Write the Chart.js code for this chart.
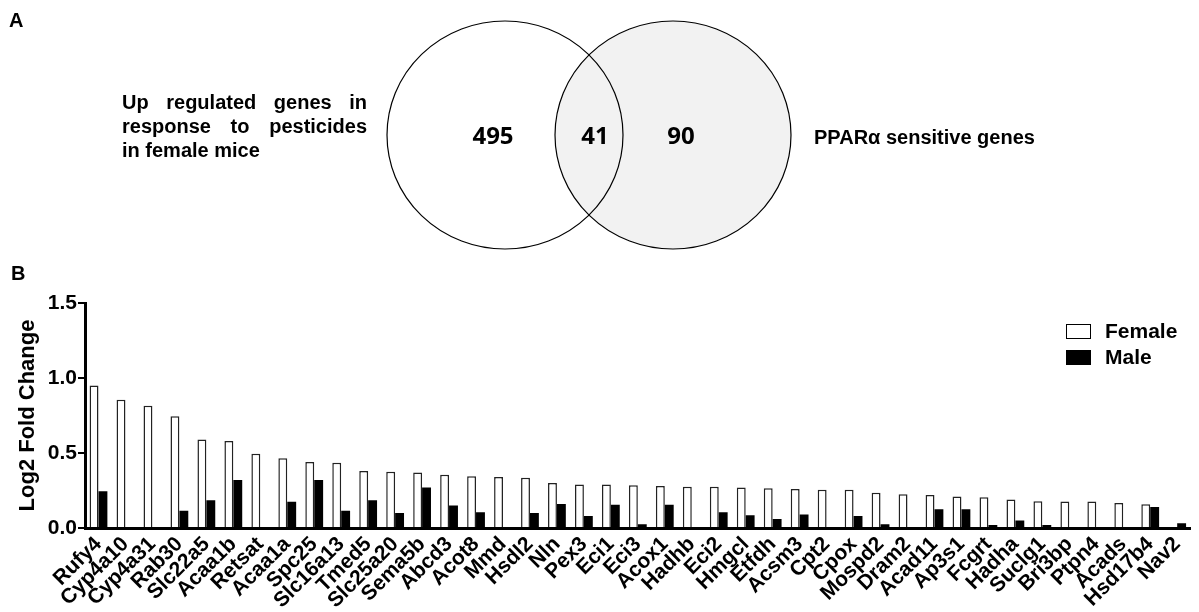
<!DOCTYPE html>
<html>
<head>
<meta charset="utf-8">
<title>Venn and log2 fold change</title>
<script src="https://cdn.jsdelivr.net/npm/chart.js@4.4.0/dist/chart.umd.min.js"></script>
<style>
  html, body { margin: 0; padding: 0; background: #fff; }
  #wrap { position: relative; width: 1199px; height: 612px; }
</style>
</head>
<body>
<div id="wrap"><canvas id="myChart" width="1199" height="612"></canvas></div>
<script>
// gene names on the x axis
const genes = ["Rufy4", "Cyp4a10", "Cyp4a31", "Rab30", "Slc22a5", "Acaa1b", "Retsat", "Acaa1a",
  "Spc25", "Slc16a13", "Tmed5", "Slc25a20", "Sema5b", "Abcd3", "Acot8", "Mmd", "Hsdl2", "Nln",
  "Pex3", "Eci1", "Eci3", "Acox1", "Hadhb", "Eci2", "Hmgcl", "Etfdh", "Acsm3", "Cpt2", "Cpox",
  "Mospd2", "Dram2", "Acad11", "Ap3s1", "Fcgrt", "Hadha", "Suclg1", "Bri3bp", "Ptpn4", "Acads",
  "Hsd17b4", "Nav2"];

// log2 fold change
const femaleValues = [0.95, 0.855, 0.815, 0.745, 0.59, 0.58, 0.495, 0.465, 0.44, 0.435, 0.38,
  0.375, 0.37, 0.355, 0.345, 0.34, 0.335, 0.30, 0.29, 0.29, 0.285, 0.28, 0.275, 0.275, 0.27,
  0.265, 0.26, 0.255, 0.255, 0.235, 0.225, 0.22, 0.21, 0.205, 0.19, 0.178, 0.177, 0.176, 0.166,
  0.158, 0];
const maleValues = [0.245, 0, 0, 0.115, 0.185, 0.32, 0, 0.175, 0.32, 0.115, 0.185, 0.10, 0.27,
  0.15, 0.105, 0, 0.10, 0.16, 0.08, 0.155, 0.025, 0.155, 0, 0.105, 0.085, 0.06, 0.09, 0, 0.08,
  0.025, 0.005, 0.125, 0.125, 0.02, 0.05, 0.02, 0.005, 0, 0, 0.14, 0.032];

const yTicks = [0, 0.5, 1.0, 1.5];

// venn counts: pesticide only, overlap, PPARa only
const vennCounts = [495, 41, 90];
const vennLeftText = ["Up regulated genes in", "response to pesticides", "in female mice"];
const vennRightText = "PPARα sensitive genes";

const FONT = "'Liberation Sans', Arial, sans-serif";

// spread words over a fixed width (justified line)
function drawJustified(ctx, text, x, y, width) {
  const words = text.split(" ");
  const total = words.reduce(function (s, w) { return s + ctx.measureText(w).width; }, 0);
  const gap = (width - total) / (words.length - 1);
  let cx = x;
  words.forEach(function (w) {
    ctx.fillText(w, cx, y);
    cx += ctx.measureText(w).width + gap;
  });
}

// panel A (venn), panel letters and the legend
const extras = {
  id: "extras",
  afterDraw(chart) {
    const ctx = chart.ctx;
    ctx.save();
    ctx.fillStyle = "#000";
    ctx.textBaseline = "alphabetic";

    ctx.font = "bold 20px " + FONT;
    ctx.textAlign = "left";
    ctx.fillText("A", 9, 27);
    ctx.fillText("B", 11, 280);

    // venn circles
    ctx.lineWidth = 1.2;
    ctx.strokeStyle = "#000";
    ctx.beginPath();
    ctx.ellipse(673, 135, 118, 114, 0, 0, Math.PI * 2);
    ctx.fillStyle = "#f2f2f2";
    ctx.fill();
    ctx.stroke();
    ctx.beginPath();
    ctx.ellipse(505, 135, 118, 114, 0, 0, Math.PI * 2);
    ctx.stroke();

    ctx.fillStyle = "#000";
    ctx.font = "bold 24px 'Open Sans', " + FONT;
    ctx.textAlign = "center";
    ctx.textBaseline = "middle";
    ctx.fillText(String(vennCounts[0]), 493, 137);
    ctx.fillText(String(vennCounts[1]), 595, 137);
    ctx.fillText(String(vennCounts[2]), 681, 137);

    ctx.font = "bold 20px " + FONT;
    ctx.textAlign = "left";
    ctx.textBaseline = "alphabetic";
    drawJustified(ctx, vennLeftText[0], 122, 109, 245);
    drawJustified(ctx, vennLeftText[1], 122, 133, 245);
    ctx.fillText(vennLeftText[2], 122, 157);
    ctx.fillText(vennRightText, 814, 144);

    // legend
    ctx.font = "bold 21px " + FONT;
    ctx.lineWidth = 1;
    ctx.strokeStyle = "#000";
    ctx.fillStyle = "#fff";
    ctx.fillRect(1066.5, 324.5, 24, 14);
    ctx.strokeRect(1066.5, 324.5, 24, 14);
    ctx.fillStyle = "#000";
    ctx.fillRect(1066, 350, 25, 15);
    ctx.textBaseline = "middle";
    ctx.fillText("Female", 1105, 332);
    ctx.fillText("Male", 1105, 358);
    ctx.restore();
  }
};

Chart.defaults.font.family = FONT;
Chart.defaults.color = "#000";

const ctx = document.getElementById("myChart").getContext("2d");
const myChart = new Chart(ctx, {
  type: "bar",
  data: {
    labels: genes,
    datasets: [
      {
        label: "Female",
        data: femaleValues,
        backgroundColor: "#fff",
        borderColor: "#222",
        borderWidth: 1.5,
        categoryPercentage: 0.66,
        barPercentage: 1.0,
      },
      {
        label: "Male",
        data: maleValues,
        backgroundColor: "#000",
        borderWidth: 0,
        categoryPercentage: 0.66,
        barPercentage: 1.0,
      },
    ],
  },
  options: {
    responsive: false,
    animation: false,
    devicePixelRatio: 1,
    layout: {
      padding: { top: 303, left: 0, right: 0, bottom: 0 },
    },
    scales: {
      x: {
        grid: { display: true, drawOnChartArea: false, drawTicks: false },
        border: { display: true, color: "#000", width: 3 },
        ticks: {
          autoSkip: false,
          minRotation: 45,
          maxRotation: 45,
          padding: 4,
          font: { size: 21, weight: "bold" },
        },
        afterFit: function (scale) {
          scale.height = 84;
        },
      },
      y: {
        min: 0,
        max: 1.5,
        afterBuildTicks: function (scale) {
          scale.ticks = yTicks.map(function (v) { return { value: v }; });
        },
        grid: {
          drawOnChartArea: false,
          drawTicks: true,
          tickLength: 7,
          color: "#000",
          lineWidth: 2,
        },
        border: { display: true, color: "#000", width: 3 },
        ticks: {
          padding: 1,
          font: { size: 21, weight: "bold" },
          callback: function (value) {
            return Number(value).toFixed(1);
          },
        },
        title: {
          display: true,
          text: "Log2 Fold Change",
          font: { size: 22, weight: "bold" },
          padding: { top: 15, bottom: 0 },
        },
        afterFit: function (scale) {
          scale.width = 85;
        },
      },
    },
    plugins: {
      legend: { display: false },
      tooltip: { enabled: false },
    },
  },
  plugins: [extras],
});
</script>
</body>
</html>
